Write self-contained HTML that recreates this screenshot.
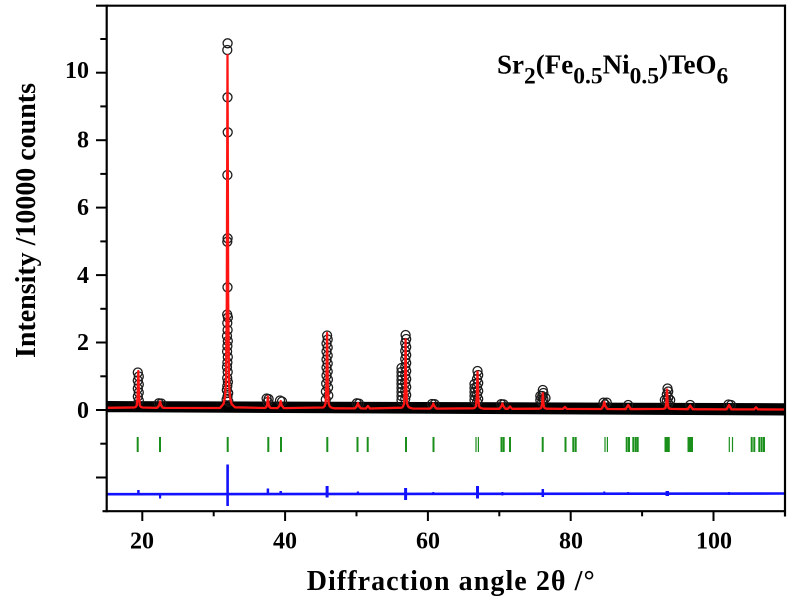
<!DOCTYPE html>
<html>
<head>
<meta charset="utf-8">
<style>
  html,body{margin:0;padding:0;background:#fff;}
  svg{display:block;}
  text{font-family:"Liberation Serif","Times New Roman",serif;font-weight:bold;fill:#000;}
</style>
</head>
<body>
<svg width="800" height="600" viewBox="0 0 800 600" xmlns="http://www.w3.org/2000/svg">
  <rect x="0" y="0" width="800" height="600" fill="#fff"/>

  <!-- observed baseline band -->
  <polygon points="107,401 785,403.2 785,415.5 107,412.2" fill="#000"/>

  <!-- observed circles -->
  <g fill="none" stroke="#1a1a1a" stroke-width="1.3">
    <!-- 19.45 -->
    <circle cx="137.8" cy="372.5" r="4.5"/><circle cx="138.8" cy="376.5" r="4.5"/>
    <circle cx="137.8" cy="380.5" r="4.5"/><circle cx="138.8" cy="384.5" r="4.5"/>
    <circle cx="137.8" cy="388.5" r="4.5"/><circle cx="138.8" cy="392.5" r="4.5"/>
    <circle cx="137.8" cy="396.5" r="4.5"/><circle cx="138.8" cy="400.5" r="4.5"/>
    <!-- 22.5 -->
    <circle cx="158.8" cy="403.3" r="4.5"/><circle cx="161.3" cy="403.5" r="4.5"/>
    <!-- 32 -->
    <circle cx="227.6" cy="43.3" r="4.5"/><circle cx="227.3" cy="50" r="4.5"/>
    <circle cx="227.5" cy="97.3" r="4.5"/><circle cx="227.7" cy="132.3" r="4.5"/>
    <circle cx="227.4" cy="175" r="4.5"/><circle cx="227.6" cy="238.3" r="4.5"/>
    <circle cx="227.3" cy="241.7" r="4.5"/><circle cx="227.5" cy="287.3" r="4.5"/>
    <circle cx="227.2" cy="314.5" r="4.5"/><circle cx="227.9" cy="317.5" r="4.5"/>
    <circle cx="227.3" cy="323" r="4.5"/><circle cx="227.6" cy="330" r="4.5"/>
    <circle cx="227" cy="336" r="4.5"/><circle cx="227.8" cy="341" r="4.5"/>
    <circle cx="227.4" cy="346" r="4.5"/><circle cx="227.1" cy="351.5" r="4.5"/>
    <circle cx="227.8" cy="357" r="4.5"/><circle cx="227.4" cy="362.5" r="4.5"/>
    <circle cx="227" cy="367" r="4.5"/><circle cx="227.7" cy="372" r="4.5"/>
    <circle cx="227.2" cy="378" r="4.5"/><circle cx="227.9" cy="382" r="4.5"/>
    <circle cx="227.3" cy="386" r="4.5"/><circle cx="226.8" cy="390" r="4.5"/>
    <circle cx="228.2" cy="393" r="4.5"/><circle cx="227.5" cy="396.5" r="4.5"/>
    <circle cx="226.6" cy="399.5" r="4.5"/><circle cx="228.4" cy="401.5" r="4.5"/>
    <!-- 37.6 / 39.4 -->
    <circle cx="266.6" cy="398.5" r="4.5"/><circle cx="268.6" cy="399" r="4.5"/>
    <circle cx="267.6" cy="402" r="4.5"/>
    <circle cx="280" cy="400.5" r="4.5"/><circle cx="282" cy="401.5" r="4.5"/>
    <!-- 45.9 -->
    <circle cx="327.1" cy="335.5" r="4.5"/><circle cx="327.7" cy="339.5" r="4.5"/>
    <circle cx="326.5" cy="343.5" r="4.5"/><circle cx="327.7" cy="347.5" r="4.5"/>
    <circle cx="326.5" cy="351.5" r="4.5"/><circle cx="327.7" cy="355.5" r="4.5"/>
    <circle cx="326.5" cy="359.5" r="4.5"/><circle cx="327.7" cy="363.5" r="4.5"/>
    <circle cx="326.5" cy="367.5" r="4.5"/><circle cx="327.7" cy="371.5" r="4.5"/>
    <circle cx="326.5" cy="375.5" r="4.5"/><circle cx="327.9" cy="379.5" r="4.5"/>
    <circle cx="326.2" cy="383.5" r="4.5"/><circle cx="328.1" cy="387.5" r="4.5"/>
    <circle cx="325.9" cy="391.5" r="4.5"/><circle cx="328.3" cy="395.5" r="4.5"/>
    <circle cx="325.8" cy="399.5" r="4.5"/>
    <!-- 50.1 -->
    <circle cx="356.8" cy="403.3" r="4.5"/><circle cx="359" cy="403.6" r="4.5"/>
    <!-- 56.9 -->
    <circle cx="405.6" cy="335" r="4.5"/><circle cx="406.2" cy="339" r="4.5"/>
    <circle cx="405.2" cy="343" r="4.5"/><circle cx="406.2" cy="347" r="4.5"/>
    <circle cx="405.2" cy="351" r="4.5"/><circle cx="406.2" cy="355" r="4.5"/>
    <circle cx="405.2" cy="359" r="4.5"/><circle cx="406.2" cy="363" r="4.5"/>
    <circle cx="405.2" cy="367" r="4.5"/><circle cx="406.2" cy="371" r="4.5"/>
    <circle cx="405.2" cy="375" r="4.5"/><circle cx="406.2" cy="379" r="4.5"/>
    <circle cx="405.2" cy="383" r="4.5"/><circle cx="406.2" cy="387" r="4.5"/>
    <circle cx="405.2" cy="391" r="4.5"/><circle cx="406.2" cy="395" r="4.5"/>
    <circle cx="405.2" cy="399" r="4.5"/>
    <circle cx="401.5" cy="368" r="4.5"/><circle cx="401.5" cy="372" r="4.5"/>
    <circle cx="401.5" cy="376" r="4.5"/><circle cx="401.5" cy="380" r="4.5"/>
    <circle cx="401.5" cy="384" r="4.5"/><circle cx="401.5" cy="388" r="4.5"/>
    <circle cx="401.5" cy="392" r="4.5"/><circle cx="401.5" cy="396" r="4.5"/>
    <circle cx="401.5" cy="400" r="4.5"/>
    <!-- 60.7 -->
    <circle cx="432" cy="404" r="4.5"/><circle cx="434.6" cy="404.2" r="4.5"/>
    <!-- 66.85 -->
    <circle cx="477.5" cy="371" r="4.5"/><circle cx="478.2" cy="375" r="4.5"/>
    <circle cx="477" cy="379" r="4.5"/><circle cx="478.2" cy="383" r="4.5"/>
    <circle cx="477" cy="387" r="4.5"/><circle cx="478.2" cy="391" r="4.5"/>
    <circle cx="477" cy="395" r="4.5"/><circle cx="478.2" cy="399" r="4.5"/>
    <circle cx="477" cy="402" r="4.5"/>
    <circle cx="474.5" cy="384" r="4.5"/><circle cx="474.5" cy="388" r="4.5"/>
    <circle cx="474.5" cy="392" r="4.5"/><circle cx="474.5" cy="396" r="4.5"/>
    <circle cx="474.5" cy="400" r="4.5"/>
    <!-- 70.4 -->
    <circle cx="501.2" cy="404.2" r="4.5"/><circle cx="503.6" cy="404.4" r="4.5"/>
    <!-- 76 -->
    <circle cx="542.8" cy="390" r="4.5"/><circle cx="543.4" cy="393" r="4.5"/>
    <circle cx="542.2" cy="396" r="4.5"/><circle cx="543.4" cy="399" r="4.5"/>
    <circle cx="542.2" cy="402" r="4.5"/>
    <circle cx="540.3" cy="396" r="4.5"/><circle cx="540.3" cy="400" r="4.5"/>
    <circle cx="545.5" cy="398" r="4.5"/>
    <!-- 84.75 -->
    <circle cx="603.5" cy="402.6" r="4.5"/><circle cx="606.8" cy="402.6" r="4.5"/>
    <circle cx="605.2" cy="404.5" r="4.5"/>
    <!-- 88.1 -->
    <circle cx="628.2" cy="405" r="4.5"/>
    <!-- 93.4 -->
    <circle cx="667.5" cy="388.5" r="4.5"/><circle cx="668.2" cy="391.5" r="4.5"/>
    <circle cx="666.8" cy="394.5" r="4.5"/><circle cx="668.2" cy="397.5" r="4.5"/>
    <circle cx="666.8" cy="400.5" r="4.5"/><circle cx="668.2" cy="403.5" r="4.5"/>
    <circle cx="664.8" cy="400" r="4.5"/><circle cx="670.2" cy="400" r="4.5"/>
    <!-- 96.8 / 102.2 -->
    <circle cx="690.2" cy="405" r="4.5"/>
    <circle cx="728.5" cy="404.5" r="4.5"/><circle cx="731" cy="405" r="4.5"/>
  </g>

  <!-- calculated (red) -->
  <polyline fill="none" stroke="#ff1414" stroke-width="2.3" stroke-linejoin="round"
    points="106.6,407.8 134.3,407.5 135.8,406.8 136.8,405.3 137.6,396.8 138.3,371 139,396.8 139.8,405.3 140.8,406.8 142.3,407.5 157.1,407.9 159.1,405.5 160.1,401.5 161.1,405.5 163.1,407.9 220,408 223.5,403.9 225,397.5 226,383.4 226.8,302.2 227.5,55 228.2,302.2 229,383.4 230,397.5 231.5,403.9 235,407.3 264.9,408 266.4,407 267.2,404 267.9,396.5 268.6,404 269.4,407 270.9,408 277.7,408.1 279.7,405.5 280.7,401 281.7,405.5 283.7,408.1 323.1,407.5 324.6,406.1 325.6,403.1 326.4,385.8 327.1,333 327.8,385.8 328.6,403.1 329.6,406.1 331.1,407.5 334,408.3 354.9,408.4 356.9,406 357.9,403 358.9,406 360.9,408.4 365.9,408.5 367.9,406 369.9,408.5 401.6,407.7 403.1,406.4 404.1,403.7 404.9,387.7 405.6,339.3 406.3,387.7 407.1,403.7 408.1,406.4 409.6,407.7 412.5,408.5 430.3,408.6 432.3,406 433.3,403.5 434.3,406 436.3,408.6 473.5,408.3 475,407.6 476,406.1 476.8,397.6 477.5,371.7 478.2,397.6 479,406.1 480,407.6 481.5,408.3 484,408.7 499.4,408.8 501.4,406.2 502.4,403.5 503.4,406.2 505.4,408.8 508,408.8 510,406.5 512,408.8 538.8,408.7 540.3,408.4 541.3,407.8 542.1,404.2 542.8,393.3 543.5,404.2 544.3,407.8 545.3,408.4 546.8,408.7 562.9,408.9 564.9,407 566.9,408.9 601.3,409 603.3,406 604.3,402 605.3,406 607.3,409 625.7,409.1 628.2,405 630.7,409.1 663,408.9 664.5,408.6 665.5,407.8 666.3,403.3 667,389.5 667.7,403.3 668.5,407.8 669.5,408.6 671,408.9 687.7,409.2 690.2,405.5 692.7,409.2 726.5,409.4 729,405 731.5,409.4 754,409.4 756,407.3 758,409.4 784.4,409.5"/>

  <!-- Bragg positions (green) -->
  <g stroke="#1b8f1b" stroke-width="2">
    <line x1="137.7" y1="437" x2="137.7" y2="452"/>
    <line x1="160" y1="437" x2="160" y2="452"/>
    <line x1="227.7" y1="437" x2="227.7" y2="452"/>
    <line x1="268.3" y1="437" x2="268.3" y2="452"/>
    <line x1="281" y1="437" x2="281" y2="452"/>
    <line x1="327.3" y1="437" x2="327.3" y2="452"/>
    <line x1="357.5" y1="437" x2="357.5" y2="452"/>
    <line x1="367.7" y1="437" x2="367.7" y2="452"/>
    <line x1="406" y1="437" x2="406" y2="452"/>
    <line x1="433.5" y1="437" x2="433.5" y2="452"/>
    <line x1="501.5" y1="437" x2="501.5" y2="452"/>
    <line x1="503.7" y1="437" x2="503.7" y2="452"/>
    <line x1="510" y1="437" x2="510" y2="452"/>
    <line x1="542.7" y1="437" x2="542.7" y2="452"/>
    <line x1="565.5" y1="437" x2="565.5" y2="452"/>
    <line x1="573.3" y1="437" x2="573.3" y2="452"/>
    <line x1="575.7" y1="437" x2="575.7" y2="452"/>
    <line x1="626.7" y1="437" x2="626.7" y2="452"/>
    <line x1="629" y1="437" x2="629" y2="452"/>
    <line x1="633.3" y1="437" x2="633.3" y2="452"/>
    <line x1="635.7" y1="437" x2="635.7" y2="452"/>
    <line x1="637.7" y1="437" x2="637.7" y2="452"/>
    <line x1="665.5" y1="437" x2="665.5" y2="452"/>
    <line x1="667.2" y1="437" x2="667.2" y2="452"/>
    <line x1="668.8" y1="437" x2="668.8" y2="452"/>
    <line x1="688.5" y1="437" x2="688.5" y2="452"/>
    <line x1="690.2" y1="437" x2="690.2" y2="452"/>
    <line x1="692" y1="437" x2="692" y2="452"/>
    <line x1="751.7" y1="437" x2="751.7" y2="452"/>
    <line x1="754.3" y1="437" x2="754.3" y2="452"/>
    <line x1="759.3" y1="437" x2="759.3" y2="452"/>
    <line x1="761.7" y1="437" x2="761.7" y2="452"/>
    <line x1="764" y1="437" x2="764" y2="452"/>
  </g>
  <g stroke="#1b8f1b" stroke-width="1.2">
    <line x1="476" y1="437" x2="476" y2="452"/>
    <line x1="478.4" y1="437" x2="478.4" y2="452"/>
    <line x1="605" y1="437" x2="605" y2="452"/>
    <line x1="607.4" y1="437" x2="607.4" y2="452"/>
    <line x1="729.3" y1="437" x2="729.3" y2="452"/>
    <line x1="732.5" y1="437" x2="732.5" y2="452"/>
  </g>

  <!-- difference (blue) -->
  <line x1="107" y1="494.2" x2="785" y2="493.5" stroke="#1212ff" stroke-width="2.6"/>
  <g stroke="#1212ff">
    <line x1="138.4" y1="490" x2="138.4" y2="495" stroke-width="2.5"/>
    <line x1="160.1" y1="493" x2="160.1" y2="498.5" stroke-width="2.2"/>
    <line x1="227.6" y1="464.5" x2="227.6" y2="506" stroke-width="2.6"/>
    <line x1="267.9" y1="488.5" x2="267.9" y2="495" stroke-width="2.5"/>
    <line x1="280.7" y1="491" x2="280.7" y2="495" stroke-width="2.5"/>
    <line x1="327.1" y1="486" x2="327.1" y2="497.5" stroke-width="3"/>
    <line x1="357.9" y1="491.5" x2="357.9" y2="495" stroke-width="2.2"/>
    <line x1="405.6" y1="488" x2="405.6" y2="500" stroke-width="3"/>
    <line x1="433.3" y1="492" x2="433.3" y2="495" stroke-width="2"/>
    <line x1="477.5" y1="486" x2="477.5" y2="498.5" stroke-width="3"/>
    <line x1="502.4" y1="492" x2="502.4" y2="495.5" stroke-width="2"/>
    <line x1="542.8" y1="489" x2="542.8" y2="497" stroke-width="2.5"/>
    <line x1="604.3" y1="491.5" x2="604.3" y2="495" stroke-width="2"/>
    <line x1="628.2" y1="492" x2="628.2" y2="495" stroke-width="2"/>
    <line x1="667.3" y1="491" x2="667.3" y2="496" stroke-width="3.5"/>
    <line x1="729" y1="492" x2="729" y2="495" stroke-width="2"/>
  </g>

  <!-- axes frame -->
  <g stroke="#000" stroke-width="2.2" fill="none">
    <line x1="96" y1="5.7" x2="786" y2="5.7"/>
    <line x1="106.7" y1="4.6" x2="106.7" y2="512.3"/>
    <line x1="102.5" y1="511.2" x2="786" y2="511.2"/>
    <line x1="785" y1="4.6" x2="785" y2="516.5"/>
  </g>
  <!-- y ticks -->
  <g stroke="#000" stroke-width="2">
    <line x1="96" y1="477.5" x2="106.7" y2="477.5"/>
    <line x1="96" y1="410" x2="106.7" y2="410"/>
    <line x1="96" y1="342.5" x2="106.7" y2="342.5"/>
    <line x1="96" y1="275.1" x2="106.7" y2="275.1"/>
    <line x1="96" y1="207.6" x2="106.7" y2="207.6"/>
    <line x1="96" y1="140.2" x2="106.7" y2="140.2"/>
    <line x1="96" y1="72.7" x2="106.7" y2="72.7"/>
    <line x1="100.3" y1="443.7" x2="106.7" y2="443.7"/>
    <line x1="100.3" y1="376.3" x2="106.7" y2="376.3"/>
    <line x1="100.3" y1="308.8" x2="106.7" y2="308.8"/>
    <line x1="100.3" y1="241.4" x2="106.7" y2="241.4"/>
    <line x1="100.3" y1="173.9" x2="106.7" y2="173.9"/>
    <line x1="100.3" y1="106.4" x2="106.7" y2="106.4"/>
    <line x1="100.3" y1="39" x2="106.7" y2="39"/>
  </g>
  <!-- x ticks -->
  <g stroke="#000" stroke-width="2">
    <line x1="142.3" y1="511.2" x2="142.3" y2="521"/>
    <line x1="285.1" y1="511.2" x2="285.1" y2="521"/>
    <line x1="427.9" y1="511.2" x2="427.9" y2="521"/>
    <line x1="570.7" y1="511.2" x2="570.7" y2="521"/>
    <line x1="713.5" y1="511.2" x2="713.5" y2="521"/>
    <line x1="213.7" y1="511.2" x2="213.7" y2="516.3"/>
    <line x1="356.5" y1="511.2" x2="356.5" y2="516.3"/>
    <line x1="499.3" y1="511.2" x2="499.3" y2="516.3"/>
    <line x1="642.1" y1="511.2" x2="642.1" y2="516.3"/>
  </g>

  <!-- tick labels -->
  <g font-size="24" text-anchor="end">
    <text x="89" y="418">0</text>
    <text x="89" y="350">2</text>
    <text x="89" y="283">4</text>
    <text x="89" y="215">6</text>
    <text x="89" y="147.5">8</text>
    <text x="89" y="78">10</text>
  </g>
  <g font-size="24" text-anchor="middle">
    <text x="142" y="548.3">20</text>
    <text x="285" y="548.3">40</text>
    <text x="428" y="548.3">60</text>
    <text x="571" y="548.3">80</text>
    <text x="714" y="548.3">100</text>
  </g>

  <!-- axis titles -->
  <text transform="translate(35,220.5) rotate(-90)" font-size="28" text-anchor="middle" textLength="275" lengthAdjust="spacing">Intensity /10000 counts</text>
  <text x="306.7" y="590" font-size="28" textLength="288" lengthAdjust="spacing">Diffraction angle 2θ /°</text>

  <!-- formula annotation -->
  <text x="497" y="73.3" font-size="27">Sr<tspan font-size="23.5" dy="10">2</tspan><tspan dy="-10">(Fe</tspan><tspan font-size="23.5" dy="10">0.5</tspan><tspan dy="-10">Ni</tspan><tspan font-size="23.5" dy="10">0.5</tspan><tspan dy="-10">)TeO</tspan><tspan font-size="23.5" dy="10">6</tspan></text>
</svg>
</body>
</html>
